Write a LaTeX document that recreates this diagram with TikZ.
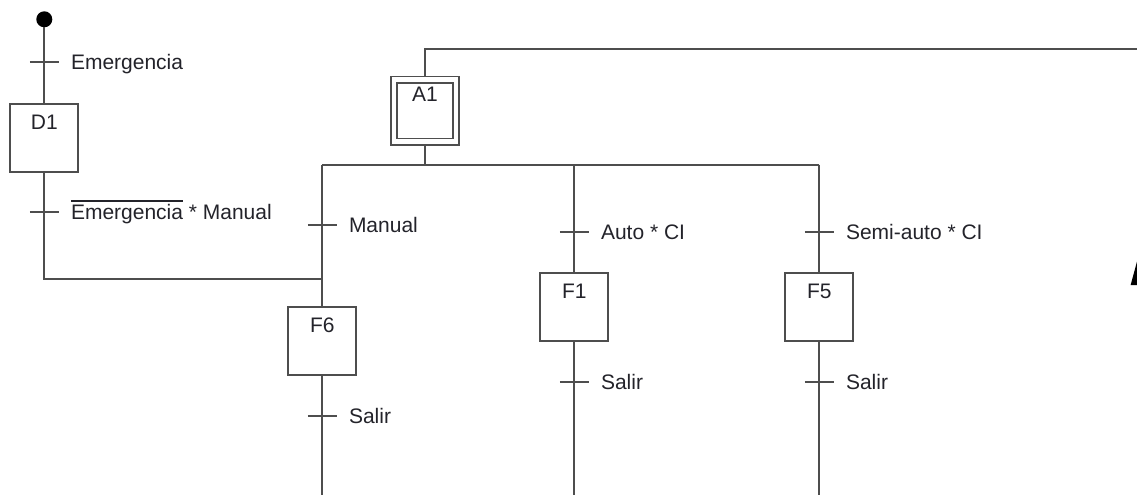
\documentclass[tikz,border=0pt]{standalone}
\usepackage{fontspec}
\setmainfont{Liberation Sans}
\usetikzlibrary{arrows.meta}
\definecolor{linec}{RGB}{78,78,78}
\definecolor{txtc}{RGB}{35,35,42}
\newcommand\negbar[1]{\vbox{\hrule height 1.2pt\kern 3pt\hbox{#1}}}
\begin{document}
\begin{tikzpicture}[x=1pt,y=-1pt,
  conn/.style={draw=linec, line width=1.9pt},
  stepbox/.style={draw=linec, line width=1.9pt, rectangle, minimum width=68pt,
    inner sep=0pt, text height=25.3pt, text depth=42.7pt,
    font=\fontsize{21}{25}\selectfont, text=txtc},
  initbox/.style={stepbox, double=white, double distance=4.4pt, outer sep=4.1pt,
    minimum width=61.9pt, text height=21.5pt, text depth=40.5pt},
  trans/.style={inner sep=0pt, outer sep=0pt, minimum width=29pt, minimum height=0pt},
  tlabel/.style={inner sep=0pt, anchor=base west, font=\fontsize{21}{25}\selectfont, text=txtc},
  dot/.style={circle, fill=black, minimum size=16pt, inner sep=0pt}]
\useasboundingbox (0,0) rectangle (1137,495);
% nodes
\node[dot] (init) at (44.3,19.3) {};
\node[trans] (tE) at (44.3,62.3) {};
\node[stepbox] (D1) at (44.3,138) {D1};
\node[trans] (tEM) at (44.3,212.3) {};
\coordinate (jn) at (322.3,279.3);
\node[initbox] (A1) at (424.9,110.6) {A1};
\coordinate (top) at (1137.9,48.7);
\coordinate (arrtip) at (1137.9,258);
\coordinate (retbot) at (1137.9,495);
\coordinate (divL) at (322.3,164.7);
\coordinate (divM) at (574.3,164.7);
\coordinate (divR) at (819.3,164.7);
\node[trans] (tMan) at (322.3,225.3) {};
\node[trans] (tAuto) at (574.3,232) {};
\node[trans] (tSemi) at (819.3,232) {};
\node[stepbox] (F6) at (322.3,341.3) {F6};
\node[stepbox] (F1) at (574.3,307.2) {F1};
\node[stepbox] (F5) at (819.3,307.2) {F5};
\node[trans] (tS6) at (322.3,415.7) {};
\node[trans] (tS1) at (574.3,381.7) {};
\node[trans] (tS5) at (819.3,381.7) {};
\coordinate (b6) at (322.3,495);
\coordinate (b1) at (574.3,495);
\coordinate (b5) at (819.3,495);
% connectors
\draw[conn] (init) -- (D1);
\draw[conn] (D1) |- (jn);
\draw[conn] (A1.north) |- (top);
\draw[conn] (arrtip) -- (top);
\draw[conn, -{Triangle[length=27pt,width=14pt,color=black,fill=black]}] (retbot) -- (arrtip);
\draw[conn] (A1.south) -- (A1.south |- divL);
\draw[conn] (divL) -- (divR);
\draw[conn] (divL) -- (F6);
\draw[conn] (divM) -- (F1);
\draw[conn] (divR) -- (F5);
\draw[conn] (F6) -- (b6);
\draw[conn] (F1) -- (b1);
\draw[conn] (F5) -- (b5);
% transition ticks
\foreach \t in {tE,tEM,tMan,tAuto,tSemi,tS6,tS1,tS5}
  \draw[conn] (\t.west) -- (\t.east);
% transition labels
\node[tlabel] (lE) at ([xshift=26.5pt,yshift=-7.6pt]tE.center) {Emergencia};
\node[tlabel] (lEM) at ([xshift=26.5pt,yshift=-7.6pt]tEM.center) {\negbar{Emergencia} * Manual};
\node[tlabel] (lMan) at ([xshift=26.5pt,yshift=-7.6pt]tMan.center) {Manual};
\node[tlabel] (lAuto) at ([xshift=26.5pt,yshift=-7.6pt]tAuto.center) {Auto * CI};
\node[tlabel] (lSemi) at ([xshift=26.5pt,yshift=-7.6pt]tSemi.center) {Semi-auto * CI};
\node[tlabel] (lS6) at ([xshift=26.5pt,yshift=-7.6pt]tS6.center) {Salir};
\node[tlabel] (lS1) at ([xshift=26.5pt,yshift=-7.6pt]tS1.center) {Salir};
\node[tlabel] (lS5) at ([xshift=26.5pt,yshift=-7.6pt]tS5.center) {Salir};
\end{tikzpicture}
\end{document}
